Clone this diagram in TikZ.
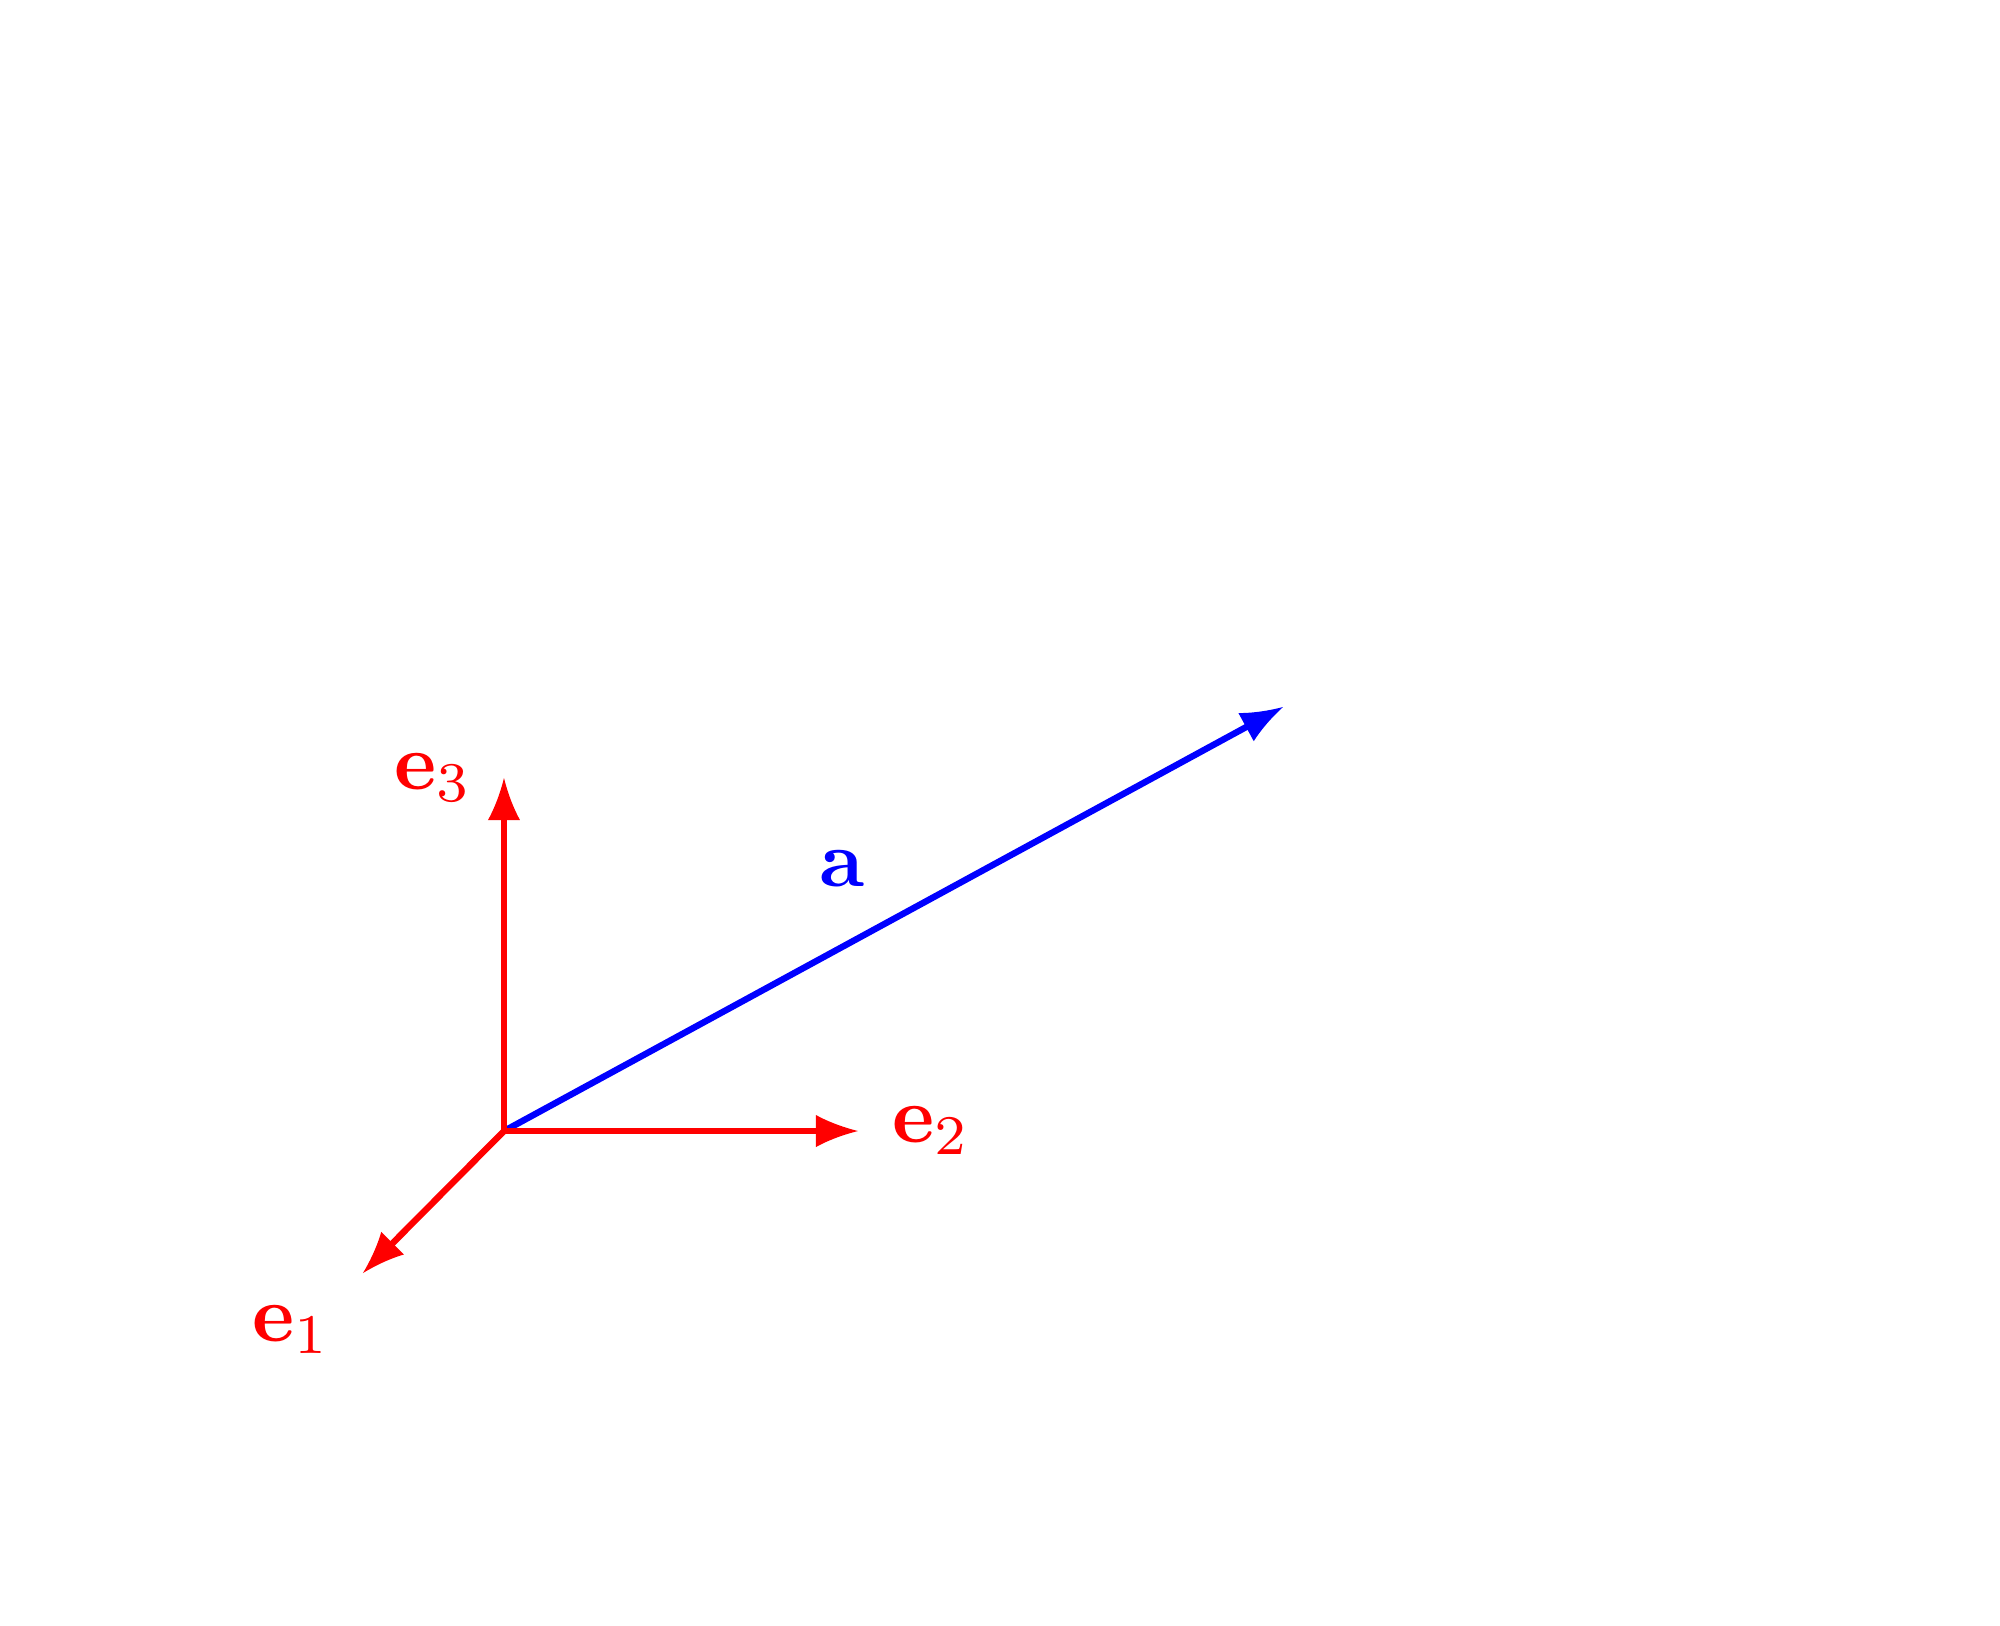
\documentclass[tikz,border=0pt]{standalone}
\usepackage{amsmath}
\pgfdeclarearrow{
  name = Concave,
  setup code = {
    \pgfarrowssettipend{0pt}
    \pgfarrowssetlineend{-4.6pt}
    \pgfarrowssetbackend{-5.25pt}
    \pgfarrowssetvisualbackend{-5.25pt}
    \pgfarrowshullpoint{0pt}{0pt}
    \pgfarrowshullpoint{-5.25pt}{2pt}
    \pgfarrowshullpoint{-5.25pt}{-2pt}
  },
  drawing code = {
    \pgfpathmoveto{\pgfpoint{0pt}{0pt}}
    \pgfpathcurveto{\pgfpoint{-2.2pt}{0.55pt}}{\pgfpoint{-4.0pt}{1.3pt}}{\pgfpoint{-5.25pt}{2pt}}
    \pgfpathlineto{\pgfpoint{-5.25pt}{-2pt}}
    \pgfpathcurveto{\pgfpoint{-4.0pt}{-1.3pt}}{\pgfpoint{-2.2pt}{-0.55pt}}{\pgfpoint{0pt}{0pt}}
    \pgfpathclose
    \pgfusepathqfill
  }
}
\definecolor{vred}{RGB}{255,0,0}
\definecolor{vblue}{RGB}{0,0,255}
\tikzset{
  vec/.style={thick,-{Concave}},
  lbl/.style={inner sep=0pt,anchor=base west,font=\normalsize}
}
\begin{document}
\begin{tikzpicture}[x=0.125pt,y=-0.125pt]
\useasboundingbox (0,0) rectangle (2000,1625);
\coordinate (O) at (504,1131);
\coordinate (E1) at (363,1273);
\coordinate (E2) at (858,1131);
\coordinate (E3) at (504,778);
\coordinate (A) at (1283,707);
\draw[vec,vblue] (O) -- (A);
\draw[vec,vred] (O) -- (E1);
\draw[vec,vred] (O) -- (E2);
\draw[vec,vred] (O) -- (E3);
\node[lbl,text=vred] (L1) at (251,1341) {$\mathbf{e}_1$};
\node[lbl,text=vred] (L2) at (891,1142) {$\mathbf{e}_2$};
\node[lbl,text=vred] (L3) at (393,789) {$\mathbf{e}_3$};
\node[lbl,text=vblue] (LA) at (818,886) {$\mathbf{a}$};
\end{tikzpicture}
\end{document}
